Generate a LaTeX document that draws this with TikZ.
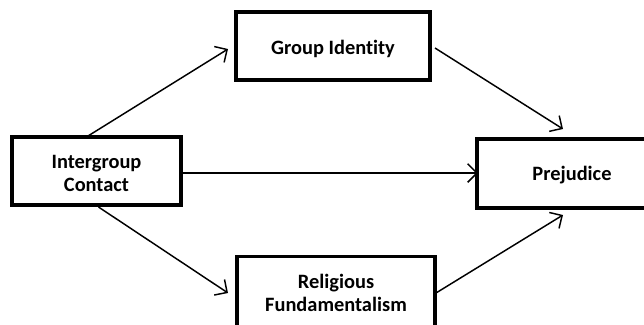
\documentclass[tikz,border=0pt]{standalone}
\usepackage{fontspec}
\setmainfont[Ligatures={NoCommon}]{Carlito}
\usetikzlibrary{arrows.meta}
\begin{document}
\begin{tikzpicture}[x=0.75pt,y=-0.75pt,
  txt/.style={font=\fontsize{15.3}{17.3}\selectfont\bfseries,align=center},
  box/.style={draw=black,line width=2.3pt,fill=white,inner sep=0pt},
  conn/.style={line width=1.1pt,-{Straight Barb[length=7pt,width=14pt,line width=1.1pt]}}]
\useasboundingbox (0,0) rectangle (644,325);
\node[box,minimum width=169*0.75pt,minimum height=68*0.75pt,
  label={[txt,yshift=-1.8pt]center:Intergroup\\Contact}] (ic) at (96.5,171) {};
\node[box,minimum width=194*0.75pt,minimum height=68*0.75pt,
  label={[txt,yshift=-2.5pt]center:Group Identity}] (gi) at (333,46) {};
\node[box,minimum width=190*0.75pt,minimum height=69*0.75pt,
  label={[txt,yshift=-1.5pt]center:Prejudice}] (pr) at (572,173.5) {};
\node[box,minimum width=198*0.75pt,minimum height=100*0.75pt,anchor=north,
  label={[txt,yshift=10pt]center:Religious\\Fundamentalism}] (rf) at (336,255) {};
\coordinate (a1s) at (88,136);
\coordinate (a1e) at (228,49);
\coordinate (a2s) at (435,48);
\coordinate (a2e) at (563,129);
\coordinate (a3s) at (181,173);
\coordinate (a3e) at (478,173);
\coordinate (a4s) at (98.5,207);
\coordinate (a4e) at (228,293);
\coordinate (a5s) at (436,293);
\coordinate (a5e) at (563,215);
\draw[conn] (a1s) -- (a1e);
\draw[conn] (a2s) -- (a2e);
\draw[conn] (a3s) -- (a3e);
\draw[conn] (a4s) -- (a4e);
\draw[conn] (a5s) -- (a5e);
\end{tikzpicture}
\end{document}
